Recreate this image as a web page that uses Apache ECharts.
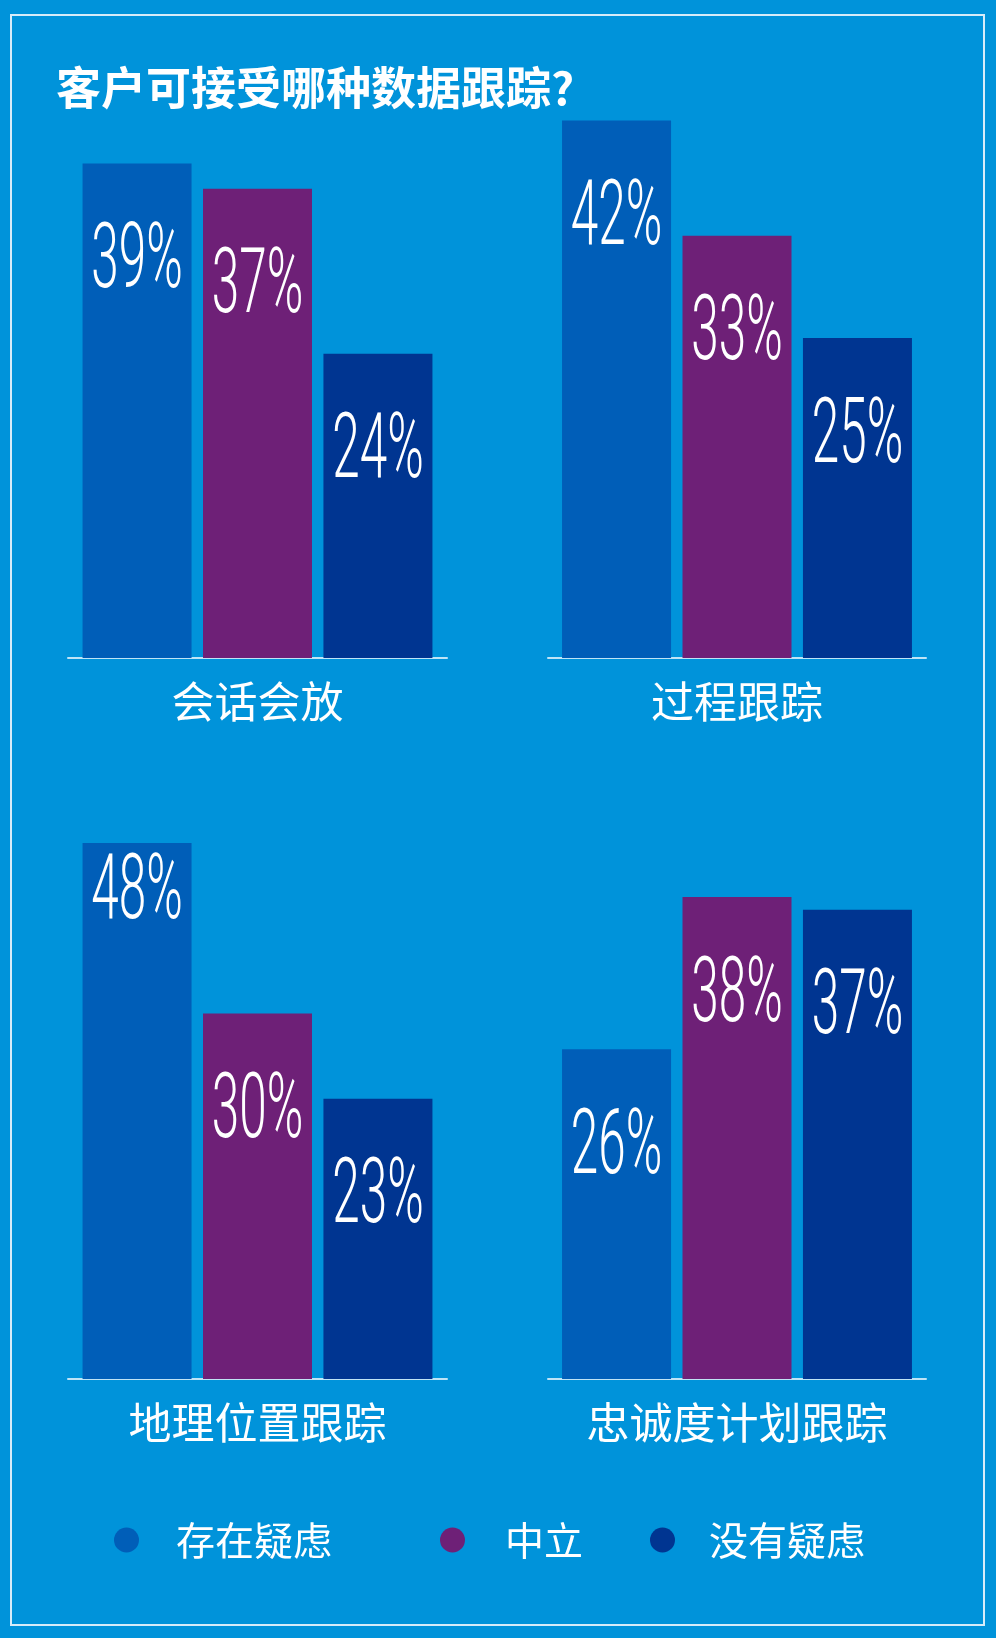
<!DOCTYPE html>
<html>
<head>
<meta charset="utf-8">
<script src="https://cdn.jsdelivr.net/npm/echarts@6/dist/echarts.min.js"></script>
<style>
html,body{margin:0;padding:0;background:#0093DA;}
#chart{width:996px;height:1638px;}
</style>
</head>
<body>
<div id="chart"></div>
<script>
// ---- data ----
const titleText = '客户可接受哪种数据跟踪?';
const categories = ['会话会放', '过程跟踪', '地理位置跟踪', '忠诚度计划跟踪'];
const seriesNames = ['存在疑虑', '中立', '没有疑虑'];
const doubtful = [39, 42, 48, 26];
const neutral = [37, 33, 30, 38];
const noDoubt = [24, 25, 23, 37];

// ---- styles / layout ----
const colors = ['#005EB8', '#6E2077', '#003591'];
const bg = '#0093DA';
const cjk = '"Noto Sans CJK SC", "Noto Sans", sans-serif';
const yMax = 44;
const barW = 109;
const barStep = 120.5;      // bar width + gap, for placing the value labels
const labelDrop = 101;      // label centre below bar top
const grids = [
  {left: 68, width: 379, top: 100, height: 558},
  {left: 548, width: 378, top: 95, height: 563},
  {left: 68, width: 379, top: 843, height: 536},
  {left: 548, width: 378, top: 821, height: 558}
];
const legendPos = [
  {left: 114, pad: 32},
  {left: 440, pad: 35},
  {left: 650, pad: 29}
];

const valuesBySeries = [doubtful, neutral, noDoubt];

const option = {
  backgroundColor: bg,
  animation: false,
  title: {
    text: titleText,
    left: 56, top: 65, padding: 0,
    textStyle: {color: '#ffffff', fontSize: 45, fontWeight: 'bold', fontFamily: cjk}
  },
  graphic: [{
    type: 'rect', silent: true,
    shape: {x: 11, y: 15, width: 973, height: 1610},
    style: {fill: null, stroke: '#d6ecf9', lineWidth: 2}
  }],
  legend: seriesNames.map((n, j) => ({
    data: [n],
    left: legendPos[j].left,
    top: 1517,
    padding: 0,
    icon: 'circle',
    itemWidth: 25, itemHeight: 25,
    selectedMode: false,
    textStyle: {color: '#ffffff', fontSize: 39, fontFamily: cjk, lineHeight: 46,
                padding: [0, 0, 0, legendPos[j].pad]}
  })),
  grid: grids.map(g => ({left: g.left, width: g.width, top: g.top, height: g.height})),
  xAxis: categories.map((c, i) => ({
    type: 'category', gridIndex: i, data: [c],
    axisLine: {show: true, lineStyle: {color: 'rgba(255,255,255,0.75)', width: 2}},
    axisTick: {show: false},
    axisLabel: {color: '#ffffff', fontSize: 43, fontFamily: cjk, margin: 22}
  })),
  yAxis: categories.map((c, i) => ({
    type: 'value', gridIndex: i, min: 0, max: yMax, show: false,
    splitLine: {show: false}
  })),
  series: []
};

categories.forEach((c, i) => {
  seriesNames.forEach((n, j) => {
    option.series.push({
      type: 'bar', name: n,
      xAxisIndex: i, yAxisIndex: i,
      data: [valuesBySeries[j][i]],
      barWidth: barW, barGap: '10.5%',
      itemStyle: {color: colors[j]}
    });
  });
  // condensed value labels drawn through the same axes
  option.series.push({
    type: 'custom',
    xAxisIndex: i, yAxisIndex: i,
    z: 5, silent: true,
    data: seriesNames.map((n, j) => [0, valuesBySeries[j][i], j]),
    renderItem: (params, api) => {
      const v = api.value(1);
      const j = api.value(2);
      const p = api.coord([0, v]);
      return {
        type: 'text',
        x: p[0] + (j - 1) * barStep,
        y: p[1] + labelDrop,
        scaleX: 0.55,
        style: {
          text: v + '%',
          fill: '#ffffff',
          font: '300 90px Roboto, "Liberation Sans", sans-serif',
          align: 'center', verticalAlign: 'middle',
          textAlign: 'center', textVerticalAlign: 'middle'
        }
      };
    }
  });
});

const chart = echarts.init(document.getElementById('chart'), null, {renderer: 'canvas'});
chart.setOption(option);
</script>
</body>
</html>
